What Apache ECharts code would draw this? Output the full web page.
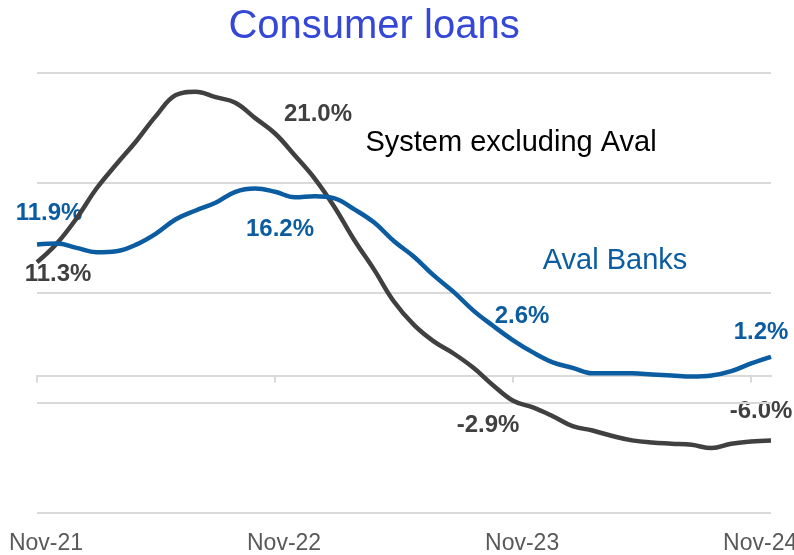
<!DOCTYPE html>
<html>
<head>
<meta charset="utf-8">
<script src="https://cdn.jsdelivr.net/npm/echarts@6/dist/echarts.min.js"></script>
<style>
  html, body { margin: 0; padding: 0; background: #fff; }
  #chart { width: 794px; height: 555px; }
</style>
</head>
<body>
<div id="chart"></div>
<script>
// monthly points, Nov-21 .. Dec-24
const months = [
  'Nov-21', 'Dec-21', 'Jan-22', 'Feb-22', 'Mar-22', 'Apr-22', 'May-22', 'Jun-22',
  'Jul-22', 'Aug-22', 'Sep-22', 'Oct-22', 'Nov-22', 'Dec-22', 'Jan-23', 'Feb-23',
  'Mar-23', 'Apr-23', 'May-23', 'Jun-23', 'Jul-23', 'Aug-23', 'Sep-23', 'Oct-23',
  'Nov-23', 'Dec-23', 'Jan-24', 'Feb-24', 'Mar-24', 'Apr-24', 'May-24', 'Jun-24',
  'Jul-24', 'Aug-24', 'Sep-24', 'Oct-24', 'Nov-24', 'Dec-24'
];

// growth, % y/y
const systemExAval = [
  10.3, 12.0, 14.3, 17.0, 19.2, 21.3, 23.6, 25.5, 25.8, 25.3,
  24.8, 23.4, 22.0, 20.0, 17.9, 15.3, 12.3, 9.6, 6.7, 4.6,
  3.1, 2.0, 0.7, -0.9, -2.3, -2.9, -3.7, -4.6, -5.0, -5.5,
  -5.9, -6.1, -6.2, -6.3, -6.6, -6.2, -6.0, -5.9
];
const avalBanks = [
  11.9, 12.0, 11.6, 11.2, 11.3, 11.9, 12.9, 14.2, 15.0, 15.7,
  16.7, 17.0, 16.7, 16.2, 16.3, 16.1, 15.1, 13.9, 12.2, 10.8,
  9.1, 7.6, 5.9, 4.5, 3.2, 2.1, 1.2, 0.7, 0.2, 0.2,
  0.2, 0.1, 0.0, -0.1, 0.0, 0.4, 1.1, 1.7
];

// callout labels
const blackLabels = ['11.3%', '21.0%', '-2.9%', '-6.0%'];
const blueLabels = ['11.9%', '16.2%', '2.6%', '1.2%'];

const BLACK = '#404040';
const BLUE = '#0b5ca0';
const FONT = '"Liberation Sans", Arial, sans-serif';

const chart = echarts.init(document.getElementById('chart'));

function callout(text, x, y, color) {
  return {
    type: 'text',
    x: x,
    y: y,
    style: {
      text: text,
      fill: color,
      font: 'bold 24px ' + FONT,
      align: 'center',
      verticalAlign: 'middle',
      textAlign: 'center',
      textVerticalAlign: 'middle'
    }
  };
}

const blackPos = [[58, 274], [318, 114], [488, 425], [761, 411]];
const bluePos = [[49, 213], [280, 229], [522, 316], [761, 332]];

const graphics = [];
blackLabels.forEach((t, i) => graphics.push(callout(t, blackPos[i][0], blackPos[i][1], BLACK)));
blueLabels.forEach((t, i) => graphics.push(callout(t, bluePos[i][0], bluePos[i][1], BLUE)));
graphics.push({
  type: 'text', x: 511, y: 143,
  style: { text: 'System excluding Aval', fill: '#000', font: '29px ' + FONT,
    align: 'center', verticalAlign: 'middle', textAlign: 'center', textVerticalAlign: 'middle' }
});
graphics.push({
  type: 'text', x: 615, y: 261,
  style: { text: 'Aval Banks', fill: BLUE, font: '29px ' + FONT,
    align: 'center', verticalAlign: 'middle', textAlign: 'center', textVerticalAlign: 'middle' }
});
graphics.push({
  type: 'text', x: 374, y: 27,
  style: { text: 'Consumer loans', fill: '#3447d6', font: '40px ' + FONT,
    align: 'center', verticalAlign: 'middle', textAlign: 'center', textVerticalAlign: 'middle' }
});

const option = {
  animation: false,
  backgroundColor: '#fff',
  grid: { left: 37, right: 23, top: 73, bottom: 42, outerBoundsMode: 'none', containLabel: false },
  graphic: graphics,
  xAxis: [
    {
      type: 'category',
      data: months,
      boundaryGap: false,
      axisLine: { onZero: true, lineStyle: { color: '#d9d9d9', width: 2 } },
      axisTick: { show: true, interval: 11, length: 7, lineStyle: { color: '#d9d9d9', width: 2 } },
      axisLabel: { show: false }
    },
    {
      type: 'category',
      data: months,
      boundaryGap: false,
      position: 'bottom',
      axisLine: { show: false, onZero: false },
      axisTick: { show: false },
      axisLabel: {
        interval: 11,
        color: '#595959',
        fontFamily: FONT,
        fontSize: 23,
        margin: 19,
        padding: [0, 0, 0, 18]
      }
    }
  ],
  yAxis: [
    {
      type: 'value',
      min: -12.5,
      max: 27.5,
      axisLine: { show: false },
      axisTick: { show: false },
      axisLabel: { show: false },
      splitLine: { show: false }
    },
    {
      // gridlines only
      type: 'value',
      min: 0,
      max: 40,
      interval: 10,
      position: 'left',
      axisLine: { show: false },
      axisTick: { show: false },
      axisLabel: { show: false },
      splitLine: { lineStyle: { color: '#d9d9d9', width: 2 } }
    }
  ],
  series: [
    {
      name: 'System excluding Aval',
      type: 'line',
      data: systemExAval,
      smooth: 0.4,
      symbol: 'none',
      lineStyle: { color: BLACK, width: 4.5 },
      z: 3
    },
    {
      name: 'Aval Banks',
      type: 'line',
      data: avalBanks,
      smooth: 0.4,
      symbol: 'none',
      lineStyle: { color: BLUE, width: 4.5 },
      z: 4
    }
  ]
};

chart.setOption(option);
</script>
</body>
</html>
